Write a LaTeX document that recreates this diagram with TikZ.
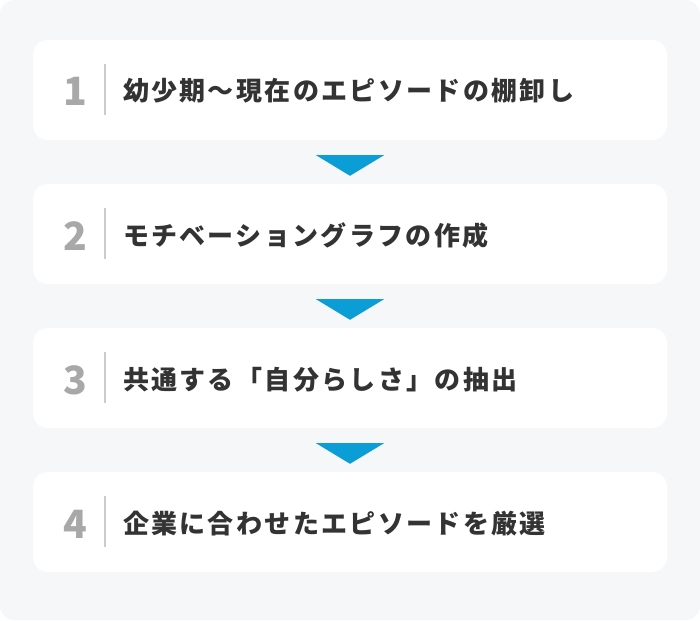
\documentclass[tikz,border=0pt]{standalone}
\usepackage{fontspec}
\newfontfamily\jpfont{Noto Sans CJK JP}[LetterSpace=9]
\newfontfamily\numfont{Noto Sans CJK JP}
\definecolor{bggray}{HTML}{F6F7F8}
\definecolor{stepblue}{HTML}{0A9DD6}
\definecolor{numgray}{HTML}{A8A8A8}
\definecolor{rulegray}{HTML}{CCCCCC}
\definecolor{textdark}{HTML}{333333}
\usetikzlibrary{positioning, calc}

\begin{document}
\begin{tikzpicture}[x=1pt, y=-1pt,
  stepbox/.style={fill=white, rounded corners=15pt, minimum width=634pt, minimum height=100pt, inner sep=0pt},
  stepnum/.style={anchor=base, font=\numfont\bfseries\fontsize{39}{39}\selectfont, text=numgray, inner sep=0pt},
  steptext/.style={anchor=base west, font=\jpfont\bfseries\fontsize{26}{26}\selectfont, text=textdark, inner sep=0pt},
  steprule/.style={draw=rulegray, line width=2pt},
  steparrow/.style={fill=stepblue}]

  % Background
  \fill[bggray, rounded corners=14pt] (0,0) rectangle (700,620);

  % Step cards
  \node[stepbox] (s1) at (350,90) {};
  \node[stepbox] (s2) at (350,234) {};
  \node[stepbox] (s3) at (350,378) {};
  \node[stepbox] (s4) at (350,522) {};

  % Numbers, rules and labels
  \node[stepnum] (n1) at ($(s1.west)+(43,16)$) {1};
  \draw[steprule] ($(s1.west)+(72,-26)$) -- ($(s1.west)+(72,25)$);
  \node[steptext] (t1) at ($(s1.west)+(90,11)$) {幼少期〜現在のエピソードの棚卸し};

  \node[stepnum] (n2) at ($(s2.west)+(43,16)$) {2};
  \draw[steprule] ($(s2.west)+(72,-26)$) -- ($(s2.west)+(72,25)$);
  \node[steptext] (t2) at ($(s2.west)+(90,11)$) {モチベーショングラフの作成};

  \node[stepnum] (n3) at ($(s3.west)+(43,16)$) {3};
  \draw[steprule] ($(s3.west)+(72,-26)$) -- ($(s3.west)+(72,25)$);
  \node[steptext] (t3) at ($(s3.west)+(90,11)$) {共通する「自分らしさ」の抽出};

  \node[stepnum] (n4) at ($(s4.west)+(43,16)$) {4};
  \draw[steprule] ($(s4.west)+(72,-26)$) -- ($(s4.west)+(72,25)$);
  \node[steptext] (t4) at ($(s4.west)+(90,11)$) {企業に合わせたエピソードを厳選};

  % Arrows between cards
  \fill[steparrow] ($(s1.south)+(-34,15)$) -- ($(s1.south)+(34,15)$) -- ($(s2.north)+(0,-8)$) -- cycle;
  \fill[steparrow] ($(s2.south)+(-34,15)$) -- ($(s2.south)+(34,15)$) -- ($(s3.north)+(0,-8)$) -- cycle;
  \fill[steparrow] ($(s3.south)+(-34,15)$) -- ($(s3.south)+(34,15)$) -- ($(s4.north)+(0,-8)$) -- cycle;
\end{tikzpicture}
\end{document}
